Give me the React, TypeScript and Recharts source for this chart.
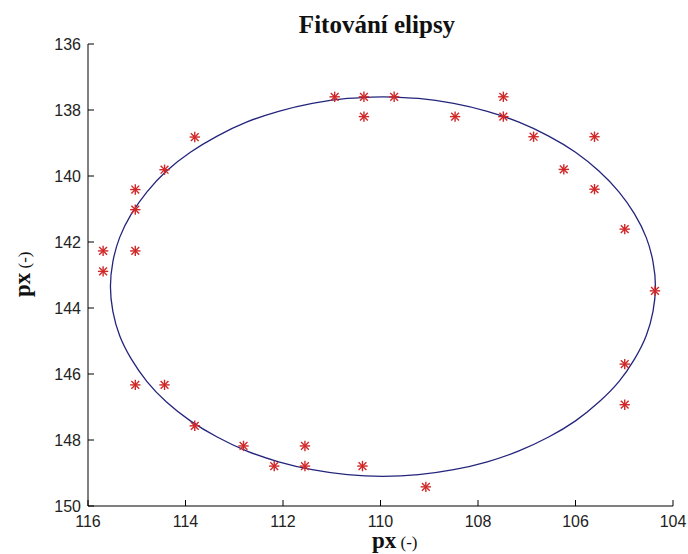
import React from 'react';
import { ComposedChart, Line, Scatter, XAxis, YAxis } from 'recharts';

const xTicks = [104, 106, 108, 110, 112, 114, 116];
const yTicks = [136, 138, 140, 142, 144, 146, 148, 150];

// measured points (red asterisks)
const measuredX = [
  115.69, 115.69, 115.03, 115.03, 115.03, 114.43, 113.81, 115.03, 114.43, 113.81,
  112.81, 112.18, 111.55, 111.55, 110.37, 109.07, 110.94, 110.34, 110.34, 109.72,
  108.47, 107.48, 107.48, 106.86, 105.61, 106.24, 105.61, 104.99, 104.37, 104.99,
  104.99,
];
const measuredY = [
  142.27, 142.89, 140.41, 141.02, 142.27, 139.81, 138.82, 146.33, 146.33, 147.57,
  148.18, 148.79, 148.18, 148.79, 148.79, 149.42, 137.6, 137.6, 138.2, 137.6,
  138.2, 137.6, 138.2, 138.81, 138.81, 139.8, 140.4, 141.61, 143.48, 145.7,
  146.93,
];

// fitted ellipse (starts and ends at the top)
const ellipseX = [
  109.95, 110.68, 111.4, 112.09, 112.75, 113.35, 113.9, 114.39, 114.79, 115.11, 115.35, 115.49,
  115.54, 115.49, 115.35, 115.11, 114.79, 114.39, 113.9, 113.35, 112.75, 112.09, 111.4, 110.68,
  109.95, 109.22, 108.5, 107.81, 107.16, 106.55, 106.0, 105.52, 105.11, 104.79, 104.55, 104.41,
  104.36, 104.41, 104.55, 104.79, 105.11, 105.52, 106.0, 106.55, 107.16, 107.81, 108.5, 109.22,
  109.95,
];
const ellipseY = [
  137.6, 137.65, 137.8, 138.04, 138.37, 138.79, 139.28, 139.85, 140.48, 141.15, 141.86, 142.6,
  143.35, 144.1, 144.84, 145.55, 146.23, 146.85, 147.42, 147.91, 148.33, 148.66, 148.9, 149.05,
  149.1, 149.05, 148.9, 148.66, 148.33, 147.91, 147.42, 146.85, 146.23, 145.55, 144.84, 144.1,
  143.35, 142.6, 141.86, 141.15, 140.48, 139.85, 139.28, 138.79, 138.37, 138.04, 137.8, 137.65,
  137.6,
];

const points = measuredX.map((x, i) => ({ x, y: measuredY[i] }));
const ellipse = ellipseX.map((x, i) => ({ x, y: ellipseY[i] }));

const tickFont = '"Liberation Sans", Arial, sans-serif';
const serif = '"Liberation Serif", "Times New Roman", serif';

function Asterisk(props: any) {
  const { cx, cy } = props;
  const r = 5.2;
  const d = 3.9;
  const c = '#d02828';
  return (
    <g stroke={c} strokeWidth={1.4}>
      <line x1={cx - r} y1={cy} x2={cx + r} y2={cy} />
      <line x1={cx} y1={cy - r} x2={cx} y2={cy + r} />
      <line x1={cx - d} y1={cy - d} x2={cx + d} y2={cy + d} />
      <line x1={cx - d} y1={cy + d} x2={cx + d} y2={cy - d} />
    </g>
  );
}

const BottomTick = (props: any) => {
  const { x, y, payload } = props;
  return (
    <g>
      <line x1={x} y1={y} x2={x} y2={y - 6} stroke="#000" />
      <text x={x} y={y + 21} textAnchor="middle" fontSize={16} fontFamily={tickFont} fill="#222">
        {payload.value}
      </text>
    </g>
  );
};

const LeftTick = (props: any) => {
  const { x, y, payload } = props;
  return (
    <g>
      <line x1={x} y1={y} x2={x + 6} y2={y} stroke="#000" />
      <text x={x - 7} y={y} dy="0.35em" textAnchor="end" fontSize={16} fontFamily={tickFont} fill="#222">
        {payload.value}
      </text>
    </g>
  );
};

const TopTick = (props: any) => {
  const { x, y } = props;
  return <line x1={x} y1={y} x2={x} y2={y + 6} stroke="#000" />;
};

const RightTick = (props: any) => {
  const { x, y } = props;
  return <line x1={x} y1={y} x2={x - 6} y2={y} stroke="#000" />;
};

export default function App() {
  return (
    <div style={{ position: 'absolute', left: 0, top: 0, width: 688, height: 554, background: '#fff' }}>
      <ComposedChart width={688} height={554} margin={{ top: 44, right: 15, bottom: 18, left: 28 }}>
        <XAxis
          xAxisId="b" type="number" dataKey="x" domain={[104, 116]} ticks={xTicks} reversed
          orientation="bottom" height={30} tickSize={0} tickMargin={0} tickLine={false}
          axisLine={{ stroke: '#000' }} tick={<BottomTick />} allowDataOverflow interval={0}
        />
        <XAxis
          xAxisId="t" type="number" dataKey="x" domain={[104, 116]} ticks={xTicks} reversed
          orientation="top" height={0} tickSize={0} tickMargin={0} tickLine={false}
          axisLine={{ stroke: '#000' }} tick={<TopTick />} allowDataOverflow interval={0}
        />
        <YAxis
          yAxisId="l" type="number" domain={[136, 150]} ticks={yTicks} reversed
          orientation="left" width={60} tickSize={0} tickMargin={0} tickLine={false}
          axisLine={{ stroke: '#000' }} tick={<LeftTick />} allowDataOverflow interval={0}
        />
        <YAxis
          yAxisId="r" type="number" domain={[136, 150]} ticks={yTicks} reversed
          orientation="right" width={0} tickSize={0} tickMargin={0} tickLine={false}
          axisLine={{ stroke: '#000' }} tick={<RightTick />} allowDataOverflow interval={0}
        />
        <Line
          xAxisId="t" yAxisId="r" data={ellipse} dataKey="y" type="natural"
          stroke="#24247c" strokeWidth={1.3} dot={false} isAnimationActive={false}
        />
        <Scatter
          xAxisId="b" yAxisId="l" data={points} dataKey="y" shape={<Asterisk />}
          isAnimationActive={false}
        />
      </ComposedChart>
      <svg width={688} height={554} style={{ position: 'absolute', left: 0, top: 0, pointerEvents: 'none' }}>
        <text x={377} y={33} textAnchor="middle" fontFamily={serif} fontWeight="bold" fontSize={25} fill="#111">
          Fitování elipsy
        </text>
        <text x={372} y={548} fontFamily={serif} fill="#111">
          <tspan fontWeight="bold" fontSize={23}>px</tspan>
          <tspan fontSize={17}> (-)</tspan>
        </text>
        <text transform="translate(30,297) rotate(-90)" fontFamily={serif} fill="#111">
          <tspan fontWeight="bold" fontSize={23}>px</tspan>
          <tspan fontSize={17}> (-)</tspan>
        </text>
      </svg>
    </div>
  );
}
